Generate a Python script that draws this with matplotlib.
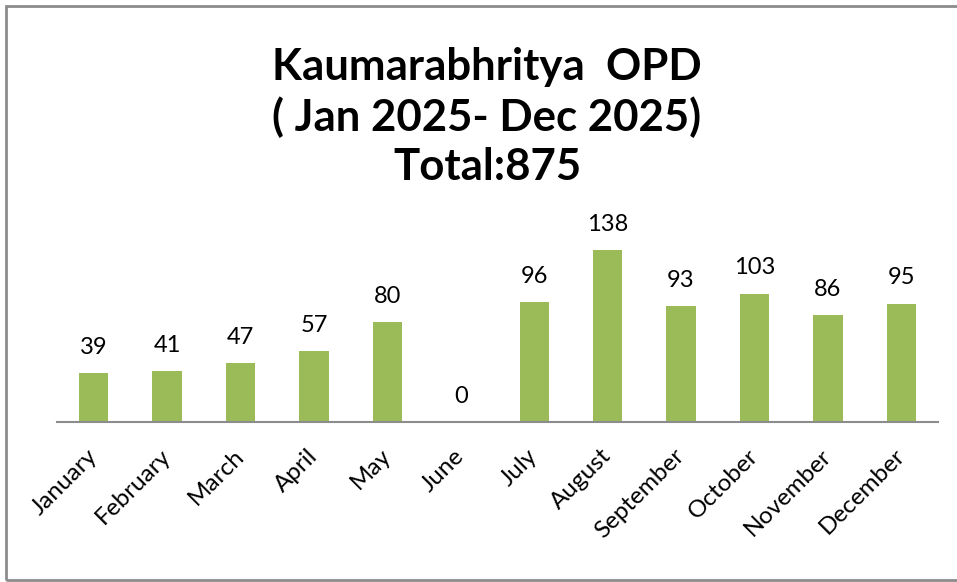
import matplotlib
matplotlib.use("Agg")
import matplotlib.pyplot as plt
from matplotlib.patches import Rectangle

# chart data
months = ["January", "February", "March", "April", "May", "June", "July",
          "August", "September", "October", "November", "December"]
patients = [39, 41, 47, 57, 80, 0, 96, 138, 93, 103, 86, 95]
title = "Kaumarabhritya  OPD\n( Jan 2025- Dec 2025)\nTotal:875"

W, H = 957, 582
fig = plt.figure(figsize=(W / 100, H / 100), dpi=100)
plt.rcParams["font.family"] = ["Lato", "DejaVu Sans"]

# axes placed in pixel terms of the reference
left, right, bottom, top = 57, 938, 422, 222.6
ax = fig.add_axes([left / W, 1 - bottom / H, (right - left) / W, (bottom - top) / H])

x = range(len(months))
bars = ax.bar(x, patients, width=0.4, color="#9BBB59")
ax.set_xlim(-0.5, len(months) - 0.5)
ax.set_ylim(0, 160)

# data labels above bars
for xi, v in zip(x, patients):
    ax.annotate(str(v), (xi, v), xytext=(0, 11), textcoords="offset points",
                ha="center", va="bottom", fontsize=17, clip_on=False)

ax.set_xticks(list(x))
ax.set_xticklabels(months, rotation=45, ha="right", va="center",
                   rotation_mode="anchor", fontsize=17.5)
ax.tick_params(axis="x", length=0, pad=22)
ax.set_yticks([])
for s in ["top", "right", "left"]:
    ax.spines[s].set_visible(False)
ax.spines["bottom"].set_color("#8c8c8c")
ax.spines["bottom"].set_linewidth(1.5)

fig.text(487 / W, 1 - 117 / H, title, ha="center", va="center",
         fontsize=31.5, fontweight="bold", linespacing=1.27)

# outer chart border (right edge falls outside the image)
fig.patches.append(Rectangle((6 / W, 1 - 580 / H), 960 / W, 574 / H,
                             transform=fig.transFigure, fill=False,
                             edgecolor="#8c8c8c", linewidth=2))

fig.savefig("out.png", dpi=100)
